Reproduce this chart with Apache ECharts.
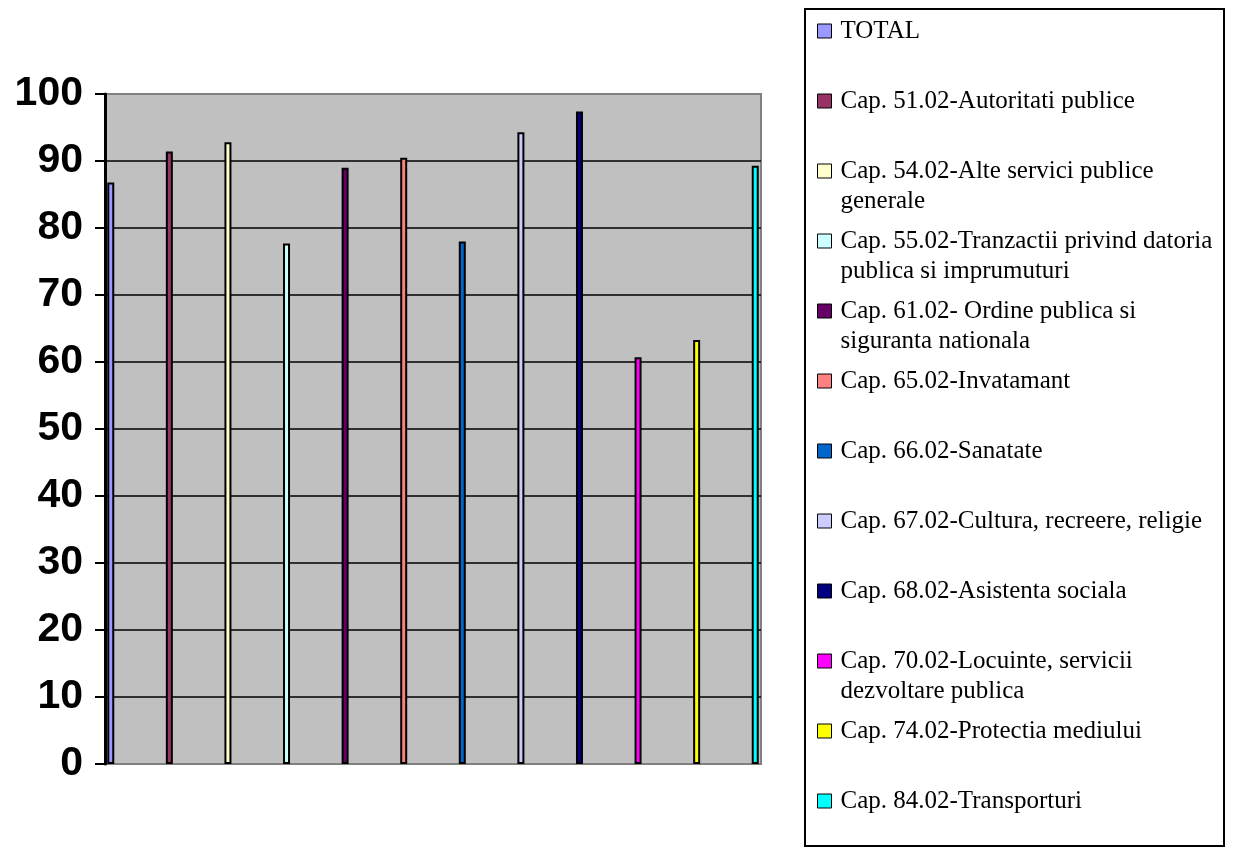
<!DOCTYPE html>
<html>
<head>
<meta charset="utf-8">
<script src="https://cdn.jsdelivr.net/npm/echarts@6/dist/echarts.min.js"></script>
<style>html,body{margin:0;padding:0;background:#fff;}#c{width:1233px;height:848px;}</style>
</head>
<body>
<div id="c"></div>
<script>
const categories = [''];
const seriesNames = [
  'TOTAL',
  'Cap. 51.02-Autoritati publice',
  'Cap. 54.02-Alte servici publice generale',
  'Cap. 55.02-Tranzactii privind datoria publica si imprumuturi',
  'Cap. 61.02- Ordine publica si siguranta nationala',
  'Cap. 65.02-Invatamant',
  'Cap. 66.02-Sanatate',
  'Cap. 67.02-Cultura, recreere, religie',
  'Cap. 68.02-Asistenta sociala',
  'Cap. 70.02-Locuinte, servicii dezvoltare publica',
  'Cap. 74.02-Protectia mediului',
  'Cap. 84.02-Transporturi'
];
const legendLines = [
  'TOTAL',
  'Cap. 51.02-Autoritati publice',
  'Cap. 54.02-Alte servici publice\ngenerale',
  'Cap. 55.02-Tranzactii privind datoria\npublica si imprumuturi',
  'Cap. 61.02- Ordine publica si\nsiguranta nationala',
  'Cap. 65.02-Invatamant',
  'Cap. 66.02-Sanatate',
  'Cap. 67.02-Cultura, recreere, religie',
  'Cap. 68.02-Asistenta sociala',
  'Cap. 70.02-Locuinte, servicii\ndezvoltare publica',
  'Cap. 74.02-Protectia mediului',
  'Cap. 84.02-Transporturi'
];
const values = [86.8, 91.4, 92.8, 77.7, 89.0, 90.5, 78.0, 94.3, 97.4, 60.7, 63.3, 89.3];
const yTicks = [0, 10, 20, 30, 40, 50, 60, 70, 80, 90, 100];

const palette = ['#9999FF','#993366','#FFFFCC','#CCFFFF','#660066','#FF8080','#0066CC','#CCCCFF','#000080','#FF00FF','#FFFF00','#00FFFF'];

const chart = echarts.init(document.getElementById('c'));

const legends = seriesNames.map((n, i) => {
  const twoLine = legendLines[i].indexOf('\n') >= 0;
  const c = 31 + 70 * i;
  return {
    orient: 'vertical',
    left: 817,
    top: twoLine ? c - 45 : c - 15,
    padding: 0,
    itemWidth: 14,
    itemHeight: 14,
    itemGap: 0,
    icon: 'rect',
    data: [n],
    formatter: () => (twoLine ? ' \n' : '') + legendLines[i],
    itemStyle: { borderColor: '#000', borderWidth: 1 },
    textStyle: {
      fontFamily: 'Liberation Serif',
      fontSize: 25,
      lineHeight: 30,
      color: '#000',
      padding: [0, 0, 0, 4]
    }
  };
});

const option = {
  animation: false,
  backgroundColor: '#fff',
  grid: {
    left: 105, right: 472, top: 94, bottom: 84,
    show: true, backgroundColor: '#C0C0C0', borderColor: '#808080', borderWidth: 2
  },
  legend: legends,
  graphic: [{
    type: 'rect',
    shape: { x: 805, y: 9, width: 419, height: 837 },
    style: { fill: 'none', stroke: '#000', lineWidth: 2 },
    z: 100
  }],
  xAxis: {
    type: 'category',
    data: categories,
    axisLine: { show: false },
    axisTick: { show: false },
    axisLabel: { show: false },
    splitLine: { show: false }
  },
  yAxis: {
    type: 'value',
    min: yTicks[0],
    max: yTicks[yTicks.length - 1],
    interval: 10,
    axisLine: { show: true, lineStyle: { color: '#000', width: 3 } },
    axisTick: { show: true, length: 10, lineStyle: { color: '#000', width: 2 } },
    axisLabel: {
      color: '#000', fontFamily: 'Liberation Sans', fontWeight: 'bold', fontSize: 41, margin: 22
    },
    splitLine: { show: true, showMinLine: false, showMaxLine: false, lineStyle: { color: '#000', width: 1.5 } }
  },
  series: seriesNames.map((n, i) => ({
    type: 'bar',
    name: n,
    data: [values[i]],
    barWidth: 7,
    barGap: '737%',
    itemStyle: { color: palette[i], borderColor: '#000', borderWidth: 2 }
  }))
};
chart.setOption(option);
</script>
</body>
</html>
